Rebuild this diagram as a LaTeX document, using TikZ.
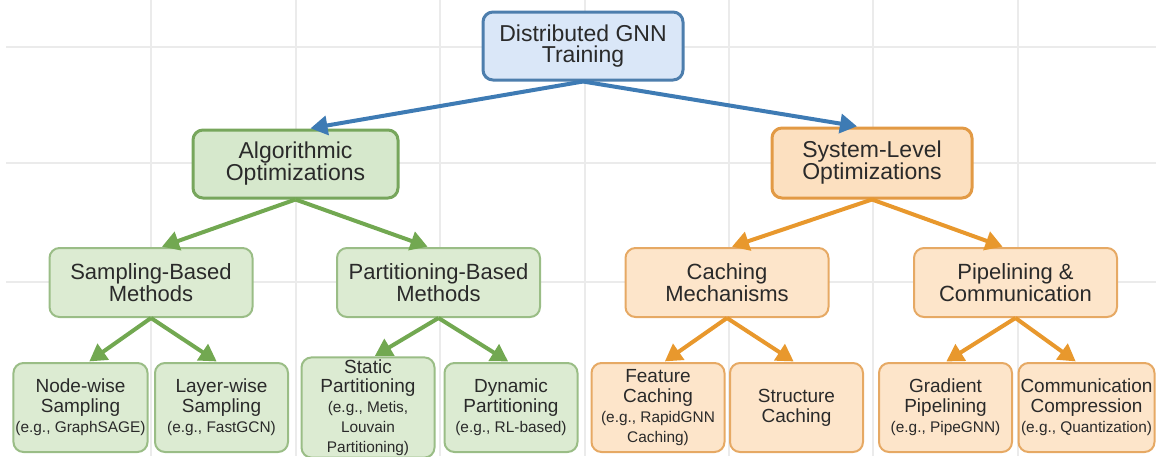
\documentclass[tikz,border=0pt]{standalone}
\usepackage{fontspec}
\setmainfont{Liberation Sans}
\usetikzlibrary{arrows.meta}
\definecolor{rootfill}{HTML}{DAE7F8}
\definecolor{rootline}{HTML}{4D7EAD}
\definecolor{bluearrow}{HTML}{3E7BB4}
\definecolor{algfill}{HTML}{D6E8CC}
\definecolor{algline}{HTML}{77A65C}
\definecolor{greenfill}{HTML}{DCEBD2}
\definecolor{greenline}{HTML}{9ABD86}
\definecolor{greenarrow}{HTML}{72A851}
\definecolor{sysfill}{HTML}{FCE0C0}
\definecolor{sysline}{HTML}{E29A45}
\definecolor{orangefill}{HTML}{FDE5CA}
\definecolor{orangeline}{HTML}{E6A964}
\definecolor{orangearrow}{HTML}{E8982D}
\definecolor{gridline}{HTML}{EBEBEB}
\definecolor{textgray}{HTML}{2A2A2A}
\newcommand{\eg}[1]{{\fontsize{7.7}{8.6}\selectfont #1}}
\tikzset{
    %Define standard arrow tip
    >={Triangle[length=8.5pt,width=9.5pt]},
    %Define style for boxes
    box/.style={
           rectangle,
           rounded corners=5pt,
           align=center,
           inner sep=1pt,
           text=textgray},
    rootbox/.style={
           box,
           draw=rootline, line width=1.5pt,
           fill=rootfill,
           minimum width=100pt,
           minimum height=34pt,
           font=\fontsize{11.5}{10.8}\selectfont},
    algbox/.style={
           box,
           draw=algline, line width=1.5pt,
           fill=algfill,
           minimum width=102.5pt,
           minimum height=34pt,
           font=\fontsize{11.5}{11}\selectfont},
    sysbox/.style={
           box,
           draw=sysline, line width=1.5pt,
           fill=sysfill,
           minimum width=100pt,
           minimum height=35pt,
           font=\fontsize{11.5}{11}\selectfont},
    greenmid/.style={
           box,
           draw=greenline, line width=1pt,
           fill=greenfill,
           minimum width=101.5pt,
           minimum height=34.5pt,
           font=\fontsize{11}{11.2}\selectfont},
    orangemid/.style={
           greenmid,
           draw=orangeline,
           fill=orangefill},
    greenleaf/.style={
           box,
           draw=greenline, line width=1pt,
           fill=greenfill,
           minimum width=66.5pt,
           minimum height=44.5pt,
           font=\fontsize{9.5}{9.9}\selectfont},
    orangeleaf/.style={
           greenleaf,
           draw=orangeline,
           fill=orangefill},
    % Define arrow styles
    bluepil/.style={->, draw=bluearrow, line width=2pt, shorten >=0.5pt},
    greenpil/.style={->, draw=greenarrow, line width=2pt, shorten >=0.5pt},
    orangepil/.style={->, draw=orangearrow, line width=2pt, shorten >=0.5pt}
}
\begin{document}
\begin{tikzpicture}[x=0.5pt,y=-0.5pt]
\useasboundingbox (0,0) rectangle (1156,456);
 %grid
\foreach \x in {151,296,440,585,729,873,1018}
    \draw[gridline, line width=0.6pt] (\x,0) -- (\x,456);
\foreach \y in {47,163,282}
    \draw[gridline, line width=0.6pt] (6,\y) -- (1156,\y);
 %nodes
\node[rootbox](root) at (583,46){Distributed GNN\\Training};
\node[algbox](alg) at (295.5,164){Algorithmic\\Optimizations};
\node[sysbox](sys) at (872,163){System-Level\\Optimizations};
\node[greenmid](samp) at (151,282.5){Sampling-Based\\Methods};
\node[greenmid](part) at (438.5,282.5){Partitioning-Based\\Methods};
\node[orangemid](cach) at (727,282.5){Caching\\Mechanisms};
\node[orangemid](pipe) at (1015.5,282.5){Pipelining \&\\Communication};
\node[greenleaf](nodew) at (80.5,407.5){Node-wise\\Sampling\\\eg{(e.g., GraphSAGE)}};
\node[greenleaf](layerw) at (221.5,407.5){Layer-wise\\Sampling\\\eg{(e.g., FastGCN)}};
\node[greenleaf](static) at (368,407.5){Static\\Partitioning\\\eg{(e.g., Metis,}\\\eg{Louvain}\\\eg{Partitioning)}};
\node[greenleaf](dynamic) at (511,407.5){Dynamic\\Partitioning\\\eg{(e.g., RL-based)}};
\node[orangeleaf](feat) at (658,407.5){Feature\\Caching\\\eg{(e.g., RapidGNN}\\\eg{Caching)}};
\node[orangeleaf](struct) at (796.5,407.5){Structure\\Caching};
\node[orangeleaf](grad) at (945.5,407.5){Gradient\\Pipelining\\\eg{(e.g., PipeGNN)}};
\node[orangeleaf](comm) at (1086.5,407.5){Communication\\Compression\\\eg{(e.g., Quantization)}};
 %arrows
\path[every edge/.style={bluepil}]
    (root.south) edge ([xshift=7pt]alg.north)
    (root.south) edge ([xshift=-7pt]sys.north);
\path[every edge/.style={greenpil}]
    (alg.south) edge ([xshift=5pt]samp.north)
    (alg.south) edge ([xshift=-5pt]part.north)
    (samp.south) edge ([xshift=4pt]nodew.north)
    (samp.south) edge ([xshift=-2pt]layerw.north)
    (part.south) edge ([xshift=3pt]static.north)
    (part.south) edge ([xshift=-1pt]dynamic.north);
\path[every edge/.style={orangepil}]
    (sys.south) edge ([xshift=2pt]cach.north)
    (sys.south) edge ([xshift=-6pt]pipe.north)
    (cach.south) edge ([xshift=3pt]feat.north)
    (cach.south) edge ([xshift=-1pt]struct.north)
    (pipe.south) edge (grad.north)
    (pipe.south) edge ([xshift=-5pt]comm.north);
\end{tikzpicture}
\end{document}
